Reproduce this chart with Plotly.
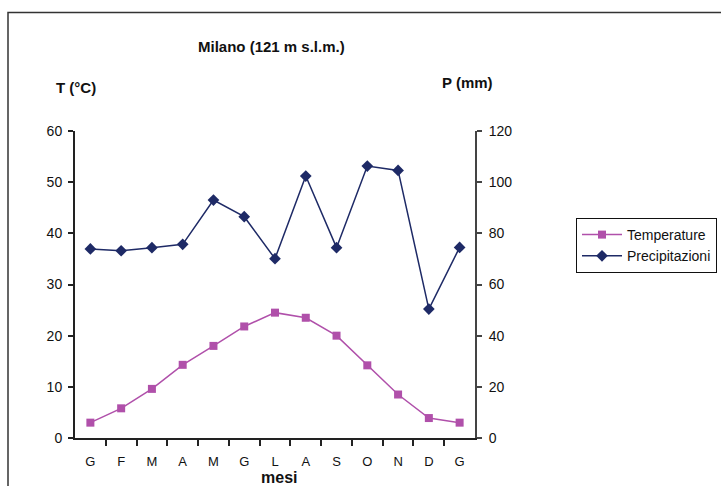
import plotly.graph_objects as go

# Monthly climate data for Milano
months = ["G", "F", "M", "A", "M", "G", "L", "A", "S", "O", "N", "D", "G"]
temperature = [3.0, 5.8, 9.6, 14.3, 18.0, 21.8, 24.5, 23.5, 20.0, 14.2, 8.5, 3.9, 3.0]
precipitation = [73.9, 73.2, 74.4, 75.7, 93.0, 86.5, 70.1, 102.4, 74.4, 106.3, 104.6, 50.4, 74.5]

x_pos = list(range(len(months)))
boundaries = [i + 0.5 for i in range(len(months) - 1)]

TEMP_COLOR = "#B050AA"
PREC_COLOR = "#1E2A66"
AXIS_COLOR = "#222222"
FONT = "Liberation Sans, Arial, sans-serif"

W, H = 721, 486

fig = go.Figure()

fig.add_trace(go.Scatter(
    x=x_pos, y=temperature, name="Temperature",
    mode="lines+markers", xaxis="x", yaxis="y",
    line=dict(color=TEMP_COLOR, width=1.5),
    marker=dict(symbol="square", size=8, color=TEMP_COLOR),
))
fig.add_trace(go.Scatter(
    x=x_pos, y=precipitation, name="Precipitazioni",
    mode="lines+markers", xaxis="x", yaxis="y2",
    line=dict(color=PREC_COLOR, width=1.5),
    marker=dict(symbol="diamond", size=9, color=PREC_COLOR),
))

tick_font = dict(family=FONT, size=14, color="#111111")
label_font = dict(family=FONT, size=15, color="#111111")

fig.update_layout(
    width=W, height=H,
    margin=dict(l=75, r=246, t=131, b=48, autoexpand=False),
    paper_bgcolor="white", plot_bgcolor="white",
    font=dict(family=FONT, size=13, color="#111111"),
    showlegend=True,
    legend=dict(
        xref="container", yref="container",
        x=576 / W, y=1 - 218 / H, xanchor="left", yanchor="top",
        bordercolor="#111111", borderwidth=1,
        font=dict(family=FONT, size=14, color="#111111"),
        itemwidth=40, tracegroupgap=0,
        bgcolor="white",
    ),
    xaxis=dict(
        range=[-0.5, 12.5], tickvals=x_pos, ticktext=months,
        ticks="", showgrid=False, zeroline=False, automargin=False,
        showline=True, linecolor=AXIS_COLOR, linewidth=2,
        tickfont=dict(family=FONT, size=13, color="#111111"), ticklabelstandoff=10,
        minor=dict(tickvals=boundaries, ticks="outside", ticklen=6,
                   tickcolor=AXIS_COLOR, tickwidth=2),
        fixedrange=True,
    ),
    xaxis2=dict(
        range=[-0.5, 12.5], overlaying="x", anchor="y", side="bottom",
        tickvals=boundaries, ticks="inside", ticklen=6,
        tickcolor=AXIS_COLOR, tickwidth=2, automargin=False,
        showticklabels=False, showgrid=False, zeroline=False, showline=False,
    ),
    yaxis=dict(
        range=[0, 60], dtick=10, ticks="outside", ticklen=5,
        tickcolor=AXIS_COLOR, tickwidth=2, automargin=False,
        showgrid=False, zeroline=False,
        showline=True, linecolor=AXIS_COLOR, linewidth=2,
        tickfont=tick_font, ticklabelstandoff=3,
    ),
    yaxis3=dict(
        range=[0, 60], dtick=10, overlaying="y", anchor="x", side="left",
        ticks="inside", ticklen=5, tickcolor=AXIS_COLOR, tickwidth=2,
        automargin=False,
        showticklabels=False, showgrid=False, zeroline=False, showline=False,
    ),
    yaxis2=dict(
        range=[0, 120], dtick=20, overlaying="y", side="right", anchor="x",
        ticks="outside", ticklen=5, tickcolor="#444444", tickwidth=2,
        showgrid=False, zeroline=False, automargin=False,
        showline=True, linecolor="#444444", linewidth=2,
        tickfont=tick_font, ticklabelstandoff=4,
    ),
    yaxis4=dict(
        range=[0, 120], dtick=20, overlaying="y", side="right", anchor="x",
        ticks="inside", ticklen=5, tickcolor="#444444", tickwidth=2,
        automargin=False,
        showticklabels=False, showgrid=False, zeroline=False, showline=False,
    ),
    annotations=[
        dict(text="<b>Milano (121 m s.l.m.)</b>", xref="paper", yref="paper",
             x=(271 - 75) / 400, y=(438 - 46) / 307, xanchor="center", yanchor="middle",
             showarrow=False, font=label_font),
        dict(text="<b>T (°C)</b>", xref="paper", yref="paper",
             x=(76 - 75) / 400, y=(438 - 88) / 307, xanchor="center", yanchor="middle",
             showarrow=False, font=label_font),
        dict(text="<b>P (mm)</b>", xref="paper", yref="paper",
             x=(467 - 75) / 400, y=(438 - 83) / 307, xanchor="center", yanchor="middle",
             showarrow=False, font=label_font),
        dict(text="<b>mesi</b>", xref="paper", yref="paper",
             x=(279 - 75) / 400, y=(438 - 477) / 307, xanchor="center", yanchor="middle",
             showarrow=False, font=dict(family=FONT, size=16, color="#111111")),
    ],
    shapes=[
        dict(type="rect", xref="paper", yref="paper",
             x0=(8 - 75) / 400, x1=(740 - 75) / 400,
             y0=(438 - 500) / 307, y1=(438 - 12.5) / 307,
             line=dict(color="#333333", width=1.5), fillcolor="rgba(0,0,0,0)",
             layer="below"),
    ],
)

fig.write_html("out.html")
